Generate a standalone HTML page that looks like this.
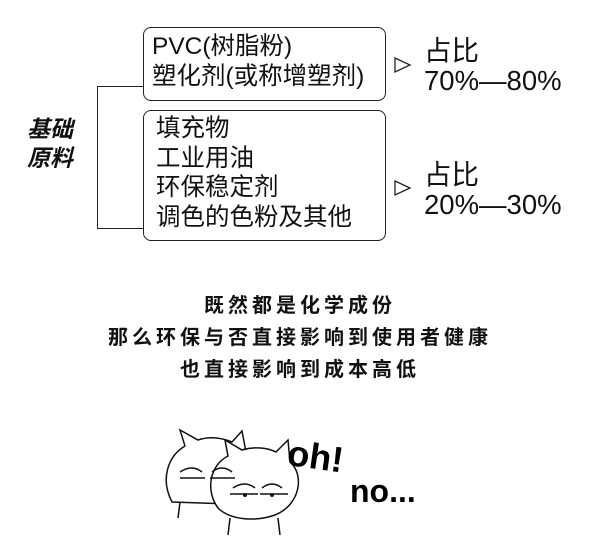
<!DOCTYPE html>
<html><head><meta charset="utf-8"><style>
body{margin:0;width:600px;height:541px;background:#fff;position:relative;overflow:hidden;font-family:"Liberation Sans","Noto Sans CJK SC",sans-serif;color:#111}
.a{position:absolute;white-space:nowrap}
.box{position:absolute;border:1.5px solid #222;border-radius:8px;box-sizing:border-box}
.t{font-size:24.5px;line-height:30px}
.m{font-size:20px;font-weight:bold;left:0;width:600px;text-align:center;letter-spacing:4px}
</style></head><body>
<div class="box" style="left:143px;top:27px;width:243px;height:74px"></div>
<div class="box" style="left:143px;top:110px;width:243px;height:131px"></div>
<div class="a" style="left:97px;top:86px;width:46px;height:143px;border:1.5px solid #222;border-right:none;box-sizing:border-box"></div>
<div class="a t" style="left:152px;top:32px">PVC(树脂粉)<br>塑化剂(或称增塑剂)</div>
<div class="a t" style="left:156px;top:114px;line-height:29.5px">填充物<br>工业用油<br>环保稳定剂<br>调色的色粉及其他</div>
<div class="a" style="left:27px;top:115px;font-size:23px;line-height:29px;font-weight:bold;font-style:italic">基础<br>原料</div>
<svg class="a" style="left:393px;top:55px" width="20" height="20"><path d="M2 3 L17 10 L2 17 Z" fill="none" stroke="#222" stroke-width="1.3"/></svg>
<svg class="a" style="left:393px;top:178px" width="20" height="20"><path d="M2 3 L17 10 L2 17 Z" fill="none" stroke="#222" stroke-width="1.3"/></svg>
<div class="a t" style="left:424px;top:36px;font-size:27.5px;line-height:30px">占比<br>70%—80%</div>
<div class="a t" style="left:424px;top:160px;font-size:27.5px;line-height:30px">占比<br>20%—30%</div>
<div class="a m" style="top:289px">既然都是化学成份</div>
<div class="a m" style="top:321px">那么环保与否直接影响到使用者健康</div>
<div class="a m" style="top:353px">也直接影响到成本高低</div>
<svg class="a" style="left:150px;top:420px" width="300" height="121">
<g fill="#fff" stroke="#111" stroke-width="1.5">
<path d="M22 68 C10 45 18 22 35 12 L30 -4 L48 6 C60 2 72 4 82 8 L92 -3 L96 18 C110 30 105 60 80 70 Z" transform="translate(0,14)"/>
<path d="M30 82 L28 98 M80 84 L82 96"/>
<path d="M68 88 C55 70 60 45 78 36 L75 20 L92 30 C105 26 118 28 126 32 L138 20 L140 42 C155 55 150 85 125 95 C105 102 80 100 68 88 Z"/>
<path d="M80 98 L78 115 M128 98 L130 115"/>
</g>
<g fill="none" stroke="#111" stroke-width="1.5">
<path d="M30 52 Q42 44 52 52 M30 58 L55 58 M62 52 Q72 44 82 52 M60 58 L85 58"/>
<path d="M83 68 Q95 60 105 68 M80 74 L108 74 M112 68 Q122 60 132 68 M110 74 L138 74"/>
</g>
<circle cx="95" cy="75" r="2" fill="#111"/><circle cx="122" cy="75" r="2" fill="#111"/>
<text x="137" y="48" font-family="Liberation Sans,sans-serif" font-size="36" font-weight="bold" transform="rotate(8 160 40)">oh!</text>
<text x="200" y="82" font-family="Liberation Sans,sans-serif" font-size="32" font-weight="bold">no...</text>
</svg>
</body></html>
